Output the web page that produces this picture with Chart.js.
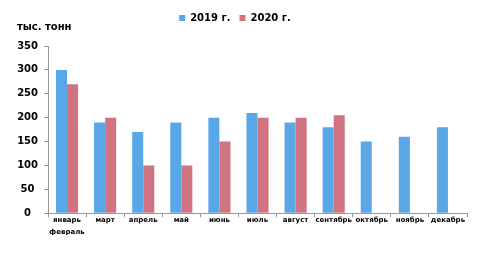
<!DOCTYPE html>
<html>
<head>
<meta charset="utf-8">
<script src="https://cdn.jsdelivr.net/npm/chart.js@4/dist/chart.umd.min.js"></script>
<style>
  html, body { margin: 0; padding: 0; background: #fff; }
  #wrap { width: 495px; height: 262px; }
</style>
</head>
<body>
<div id="wrap"><canvas id="chart" width="495" height="262"></canvas></div>
<script>
// months (jan+feb are merged in the source)
var months = [["январь", "февраль"], "март", "апрель", "май", "июнь", "июль", "август", "сентябрь", "октябрь", "ноябрь", "декабрь"];
var values2019 = [300, 190, 170, 190, 200, 210, 190, 180, 150, 160, 180];
var values2020 = [270, 200, 100, 100, 150, 200, 200, 205, null, null, null];
var yTicks = [0, 50, 100, 150, 200, 250, 300, 350];

var fontFam = "'DejaVu Sans', Verdana, sans-serif";

// legend in the original sits a bit left of centre
var legendShift = {
  id: 'legendShift',
  afterLayout: function (chart) {
    chart.legend.left -= 7;
    chart.legend.right -= 7;
  }
};

new Chart(document.getElementById("chart").getContext("2d"), {
  type: 'bar',
  data: {
    labels: months,
    datasets: [
      {
        label: "2019 г.",
        data: values2019,
        backgroundColor: "#5aa7e8"
      },
      {
        label: "2020 г.",
        data: values2020,
        backgroundColor: "#cf7480"
      }
    ]
  },
  plugins: [legendShift],
  options: {
    responsive: false,
    animation: false,
    datasets: {
      bar: { barPercentage: 1, categoryPercentage: 0.58 }
    },
    layout: {
      padding: { left: 17, right: 28, top: 4, bottom: 27 }
    },
    plugins: {
      legend: {
        position: 'top',
        align: 'center',
        weight: 1000,
        labels: {
          boxWidth: 6,
          boxHeight: 6,
          padding: 9,
          color: '#000',
          font: { family: fontFam, size: 10, weight: 'bold' }
        }
      },
      title: {
        display: true,
        text: "тыс. тонн",
        align: 'start',
        position: 'top',
        weight: 500,
        color: '#000',
        padding: { top: -12, bottom: 13 },
        font: { family: fontFam, size: 10, weight: 'bold' }
      },
      tooltip: { enabled: false }
    },
    scales: {
      x: {
        grid: {
          display: true,
          drawOnChartArea: false,
          drawTicks: true,
          tickLength: 4,
          color: '#999'
        },
        border: { display: true, color: '#999' },
        ticks: {
          color: '#000',
          maxRotation: 0,
          autoSkip: false,
          padding: -3,
          font: { family: fontFam, size: 7, weight: 'bold', lineHeight: 1.7 }
        }
      },
      y: {
        min: 0,
        max: 350,
        afterBuildTicks: function (axis) {
          axis.ticks = yTicks.map(function (v) { return { value: v }; });
        },
        afterFit: function (axis) { axis.width = 31; },
        grid: {
          display: true,
          drawOnChartArea: false,
          drawTicks: true,
          tickLength: 4,
          color: '#999'
        },
        border: { display: true, color: '#999' },
        ticks: {
          color: '#000',
          padding: 6,
          crossAlign: 'center',
          font: { family: fontFam, size: 10, weight: 'bold' }
        }
      }
    }
  }
});
</script>
</body>
</html>
